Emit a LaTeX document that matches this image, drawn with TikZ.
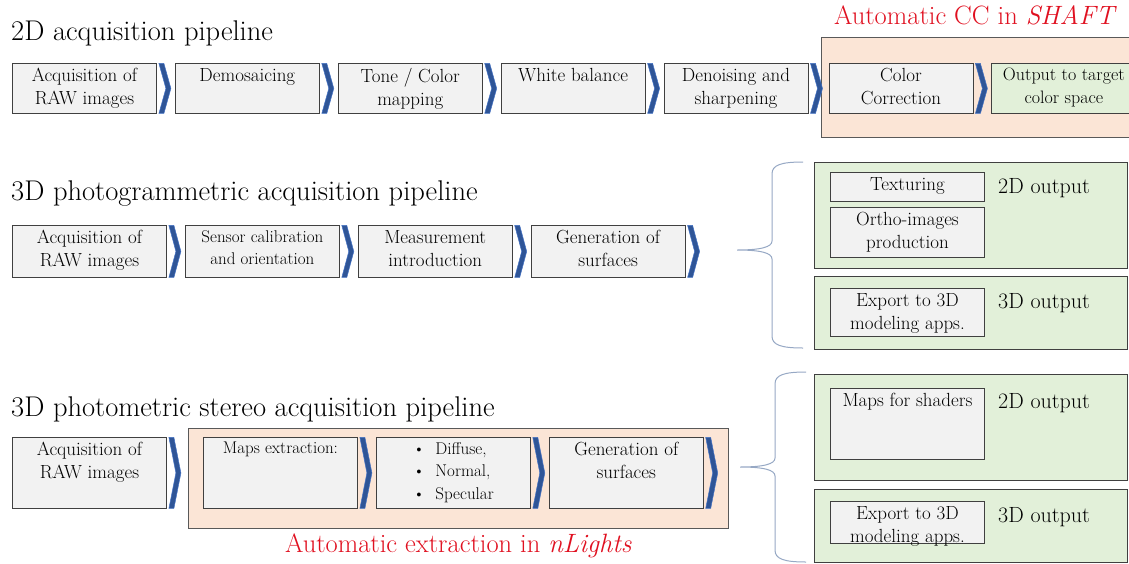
\documentclass[tikz,border=0pt]{standalone}
\usepackage{tikz}
\usetikzlibrary{positioning}
\definecolor{boxfill}{RGB}{242,242,242}
\definecolor{boxline}{RGB}{64,64,64}
\definecolor{zonefill}{RGB}{251,229,214}
\definecolor{zoneline}{RGB}{89,89,89}
\definecolor{outfill}{RGB}{226,240,217}
\definecolor{chevblue}{RGB}{47,85,151}
\definecolor{chevedge}{RGB}{68,114,196}
\definecolor{bracecol}{RGB}{150,168,196}
\definecolor{autored}{RGB}{224,16,32}
\newcommand{\boxfont}{\fontsize{19}{23}\selectfont}
\newcommand{\midboxfont}{\fontsize{18}{23}\selectfont}
\newcommand{\smallboxfont}{\fontsize{17}{22.5}\selectfont}
\newcommand{\titlefont}{\fontsize{28.5}{32}\selectfont}
\newcommand{\redfont}{\fontsize{26.5}{30}\selectfont}
\newcommand{\outfont}{\fontsize{22}{26}\selectfont}

\begin{document}
\begin{tikzpicture}[x=1pt,y=1pt,
  stage/.style={draw=boxline,fill=boxfill,line width=0.9pt,inner sep=0pt,
                anchor=north west},
  rowA/.style={stage,minimum width=144,minimum height=50},
  rowB/.style={stage,minimum width=154,minimum height=52},
  rowC/.style={stage,minimum width=154,minimum height=71},
  inbox/.style={stage,minimum width=154},
  txt/.style={anchor=north,align=center,font=\boxfont,inner sep=0pt,yshift=-5pt},
  midtxt/.style={txt,font=\midboxfont},
  smalltxt/.style={txt,font=\smallboxfont},
  zone/.style={draw=zoneline,fill=zonefill,line width=0.9pt,inner sep=0pt,
               anchor=north west},
  outzone/.style={draw=boxline,fill=outfill,line width=0.9pt,inner sep=0pt,
                  anchor=north west,minimum width=313},
  title/.style={anchor=west,font=\titlefont,inner sep=0pt},
  redlbl/.style={font=\redfont,text=autored,inner sep=0pt},
  outlbl/.style={anchor=west,font=\outfont,inner sep=0pt},
  pics/chev/.style={code={
    \fill[chevblue,draw=chevedge,line width=0.5pt]
      (0,#1) -- (5,#1) -- (12,0) -- (5,-#1) -- (0,-#1) -- (7,0) -- cycle;}},
  pics/curly/.style n args={2}{code={
    \draw[bracecol,line width=1pt]
      (66,#1) .. controls (44,#1) and (35,#1-3) .. (35,#1-12)
      -- (35,9) .. controls (35,3) and (24,0) .. (0,0)
      .. controls (24,0) and (35,-3) .. (35,-9)
      -- (35,-#2+12) .. controls (35,-#2+3) and (44,-#2) .. (66,-#2);}}
]
\useasboundingbox (0,0) rectangle (1129,-563);

%% ---------- 2D acquisition pipeline ----------
\node[title] (t1) at (11,-33) {2D acquisition pipeline};
\node[zone,minimum width=308,minimum height=100] (cc) at (821,-37) {};
\node[redlbl,above=12pt of cc] {Automatic CC in \textit{SHAFT}};

\node[rowA,label={[txt]north:{Acquisition of\\RAW images}}] (a1) at (12,-63) {};
\node[rowA,right=18pt of a1,label={[txt]north:Demosaicing}] (a2) {};
\node[rowA,right=18pt of a2,label={[txt]north:{Tone / Color\\mapping}}] (a3) {};
\node[rowA,right=18pt of a3,label={[txt]north:White balance}] (a4) {};
\node[rowA,right=18pt of a4,label={[txt]north:{Denoising and\\sharpening}}] (a5) {};
\node[rowA,right=20pt of a5,label={[txt]north:{Color\\Correction}}] (a6) {};
\node[rowA,fill=outfill,right=18pt of a6,
      label={[midtxt]north:{Output to target\\color space}}] (a7) {};

\foreach \n in {a1,a2,a3,a4,a5,a6}
  \pic at ([xshift=2pt]\n.east) {chev=25};

%% ---------- 3D photogrammetric pipeline ----------
\node[title] (t2) at (11,-194) {3D photogrammetric acquisition pipeline};

\node[rowB,label={[txt]north:{Acquisition of\\RAW images}}] (b1) at (12,-225) {};
\node[rowB,right=18pt of b1,
      label={[smalltxt]north:{Sensor calibration\\and orientation}}] (b2) {};
\node[rowB,right=18pt of b2,label={[txt]north:{Measurement\\introduction}}] (b3) {};
\node[rowB,right=18pt of b3,label={[txt]north:{Generation of\\surfaces}}] (b4) {};

\foreach \n in {b1,b2,b3,b4}
  \pic at ([xshift=2pt]\n.east) {chev=26};

% outputs
\node[outzone,minimum height=106] (o2a) at (814,-162) {};
\node[outzone,minimum height=73]  (o3a) at (814,-276) {};
\node[inbox,minimum height=29,label={[txt]north:Texturing}] (tex) at (830,-172) {};
\node[inbox,minimum height=50,label={[txt]north:{Ortho-images\\production}}] (ortho) at (830,-207) {};
\node[inbox,minimum height=48,label={[txt]north:{Export to 3D\\modeling apps.}}] (expa) at (830,-288) {};
\node[outlbl] at (998,-188) {2D output};
\node[outlbl] at (998,-303) {3D output};

\coordinate (tipa) at (737,-250);
\pic at (tipa) {curly={88}{98}};

%% ---------- 3D photometric stereo pipeline ----------
\node[title] (t3) at (11,-409) {3D photometric stereo acquisition pipeline};
\node[zone,minimum width=540,minimum height=100] (nl) at (188,-428) {};
\node[redlbl,below=5pt of nl] {Automatic extraction in \textit{nLights}};

\node[rowC,label={[txt]north:{Acquisition of\\RAW images}}] (c1) at (12,-437) {};
\node[rowC,label={[smalltxt]north:Maps extraction:}] (c2) at (203,-437) {};
\node[rowC,right=18pt of c2,
      label={[smalltxt,align=left]north:{\textbullet\ \ Diffuse,\\
             \textbullet\ \ Normal,\\ \textbullet\ \ Specular}}] (c3) {};
\node[rowC,right=18pt of c3,label={[txt]north:{Generation of\\surfaces}}] (c4) {};

\foreach \n in {c1,c2,c3,c4}
  \pic at ([xshift=2pt]\n.east) {chev=35.5};

% outputs
\node[outzone,minimum height=106] (o2b) at (814,-374) {};
\node[outzone,minimum height=73]  (o3b) at (814,-489) {};
\node[inbox,minimum height=71,label={[txt]north:Maps for shaders}] (shd) at (830,-388) {};
\node[inbox,minimum height=42,label={[txt]north:{Export to 3D\\modeling apps.}}] (expb) at (830,-501) {};
\node[outlbl] at (998,-403) {2D output};
\node[outlbl] at (998,-517) {3D output};

\coordinate (tipb) at (740,-467);
\pic at (tipb) {curly={95}{95}};

\end{tikzpicture}
\end{document}
